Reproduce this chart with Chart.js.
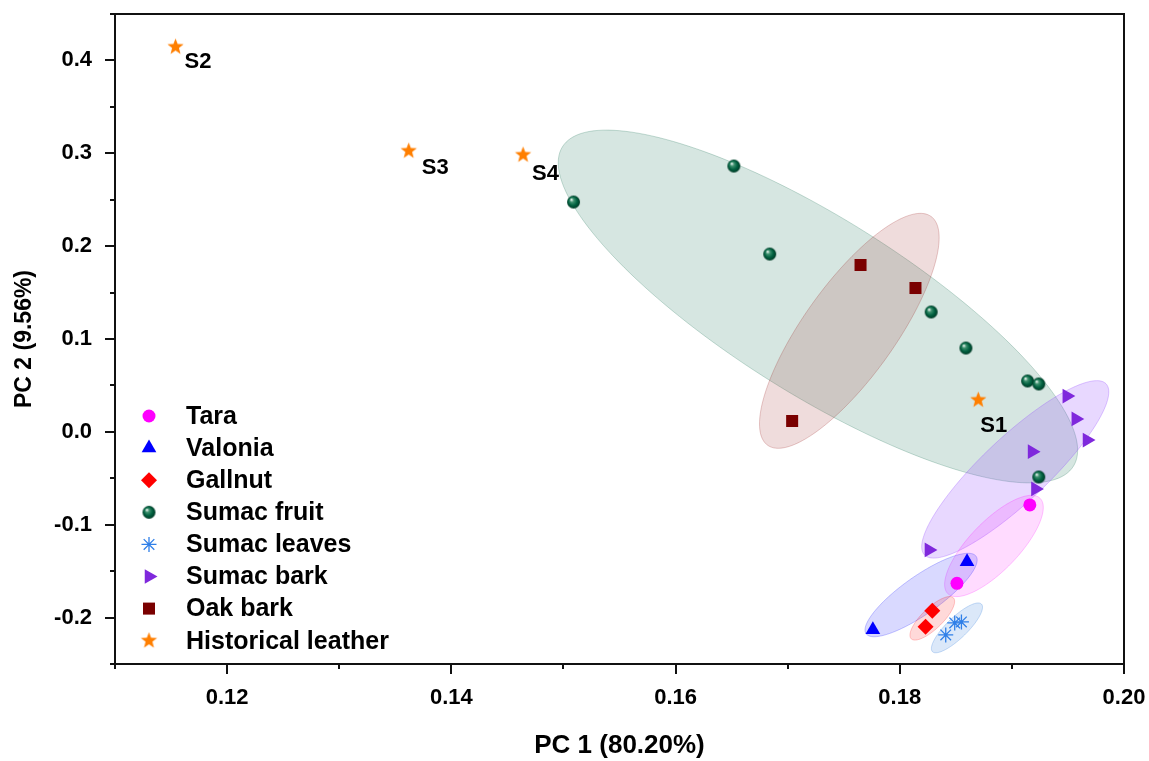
<!DOCTYPE html>
<html>
<head>
<meta charset="utf-8">
<title>PCA tannins</title>
<script src="https://cdn.jsdelivr.net/npm/chart.js@4.4.1/dist/chart.umd.min.js"></script>
<style>
body{margin:0;background:#fff}
canvas{display:block}
</style>
</head>
<body>
<canvas id="pca" width="1149" height="761"></canvas>
<script>
const groups = ['Tara', 'Valonia', 'Gallnut', 'Sumac fruit', 'Sumac leaves', 'Sumac bark', 'Oak bark', 'Historical leather']

// PC1 / PC2 scores for each group
const taraX = [0.1916, 0.1851]
const taraY = [-0.0787, -0.1631]
const valoniaX = [0.1860, 0.1776]
const valoniaY = [-0.1400, -0.2130]
const gallnutX = [0.1829, 0.1823]
const gallnutY = [-0.1926, -0.2098]
const fruitX = [0.1509, 0.1652, 0.1684, 0.1828, 0.1859, 0.1914, 0.1924, 0.1924]
const fruitY = [0.2475, 0.2863, 0.1915, 0.1291, 0.0903, 0.0548, 0.0516, -0.0486]
const leavesX = [0.1841, 0.1849, 0.1855]
const leavesY = [-0.2187, -0.2058, -0.2047]
const barkX = [0.1949, 0.1957, 0.1967, 0.1918, 0.1921, 0.1826]
const barkY = [0.0386, 0.0139, -0.0088, -0.0214, -0.0615, -0.1272]
const oakX = [0.1765, 0.1814, 0.1704]
const oakY = [0.1797, 0.1549, 0.0117]
const leatherX = [0.1870, 0.1154, 0.1362, 0.1464]
const leatherY = [0.0343, 0.4145, 0.3025, 0.2982]
const leatherNames = ['S1', 'S2', 'S3', 'S4']

// confidence ellipses: centre, end of long axis, end of short axis (PC1, PC2 pairs)
const taraEllipse = [0.1884, -0.1229, 0.1925, -0.0714, 0.1900, -0.1409]
const valoniaEllipse = [0.1819, -0.1757, 0.1868, -0.1339, 0.1829, -0.1922]
const gallnutEllipse = [0.1829, -0.2008, 0.1848, -0.1790, 0.1835, -0.2094]
const fruitEllipse = [0.1727, 0.1350, 0.1955, -0.0368, 0.1768, 0.2161]
const leavesEllipse = [0.1851, -0.2111, 0.1873, -0.1857, 0.1857, -0.2197]
const barkEllipse = [0.1903, -0.0404, 0.1984, 0.0517, 0.1923, -0.0658]
const oakEllipse = [0.1755, 0.1088, 0.1828, 0.2319, 0.1788, 0.0796]

const xTicks = [0.12, 0.14, 0.16, 0.18, 0.20]
const xMinorTicks = [0.11, 0.13, 0.15, 0.17, 0.19]
const yTicks = [-0.2, -0.1, 0.0, 0.1, 0.2, 0.3, 0.4]
const yMinorTicks = [-0.25, -0.15, -0.05, 0.05, 0.15, 0.25, 0.35, 0.45]

const FONT = "'Liberation Sans', Arial, sans-serif"

// little canvas markers for the shaded balls and the filled stars
function sphereMarker(r){
    var c = document.createElement('canvas')
    c.width = c.height = 2*r + 2
    var g = c.getContext('2d')
    var m = r + 1
    var grad = g.createRadialGradient(m - r*0.35, m - r*0.4, r*0.05, m, m, r)
    grad.addColorStop(0, '#eef8f3')
    grad.addColorStop(0.28, '#3c8f6d')
    grad.addColorStop(0.65, '#00603f')
    grad.addColorStop(1, '#003a26')
    g.fillStyle = grad
    g.beginPath()
    g.arc(m, m, r, 0, Math.PI*2)
    g.fill()
    return c
}
function starMarker(R, r, color){
    var c = document.createElement('canvas')
    c.width = c.height = 2*R + 2
    var g = c.getContext('2d')
    var m = R + 1
    g.fillStyle = color
    g.beginPath()
    for(var i=0;i<10;i++){
        var a = -Math.PI/2 + i*Math.PI/5
        var rr = i % 2 == 0 ? R : r
        g.lineTo(m + rr*Math.cos(a), m + rr*Math.sin(a))
    }
    g.closePath()
    g.fill()
    return c
}

function pts(xs, ys){
    var out = []
    for(var i=0;i<xs.length;i++) out.push({x: xs[i], y: ys[i]})
    return out
}

const datasets = [
    {label: groups[0], data: pts(taraX, taraY), pointStyle: 'circle', pointRadius: 6.5, pointBackgroundColor: '#ff00ff', pointBorderColor: '#ff00ff', pointBorderWidth: 0},
    {label: groups[1], data: pts(valoniaX, valoniaY), pointStyle: 'triangle', pointRadius: 8.5, pointBackgroundColor: '#0000ff', pointBorderColor: '#0000ff', pointBorderWidth: 0},
    {label: groups[2], data: pts(gallnutX, gallnutY), pointStyle: 'rectRot', pointRadius: 8, pointBackgroundColor: '#ff0000', pointBorderColor: '#ff0000', pointBorderWidth: 0},
    {label: groups[3], data: pts(fruitX, fruitY), pointStyle: sphereMarker(6.5), pointRadius: 6.5, pointBackgroundColor: '#00603f', pointBorderColor: '#00603f', pointBorderWidth: 0},
    {label: groups[4], data: pts(leavesX, leavesY), pointStyle: 'star', pointRadius: 7.5, pointBackgroundColor: '#2f7fe8', pointBorderColor: '#2f7fe8', pointBorderWidth: 1.3},
    {label: groups[5], data: pts(barkX, barkY), pointStyle: 'triangle', pointRotation: 90, pointRadius: 8.5, pointBackgroundColor: '#7f28dc', pointBorderColor: '#7f28dc', pointBorderWidth: 0},
    {label: groups[6], data: pts(oakX, oakY), pointStyle: 'rect', pointRadius: 8.5, pointBackgroundColor: '#7a0000', pointBorderColor: '#7a0000', pointBorderWidth: 0},
    {label: groups[7], data: pts(leatherX, leatherY), pointStyle: starMarker(8.5, 3.6, '#ff7f00'), pointRadius: 8, pointBackgroundColor: '#ff7f00', pointBorderColor: '#ff7f00', pointBorderWidth: 0}
]

const ellipses = [
    {p: fruitEllipse, fill: 'rgba(0,100,70,0.16)', line: 'rgba(0,100,70,0.22)'},
    {p: oakEllipse, fill: 'rgba(150,20,20,0.15)', line: 'rgba(150,20,20,0.22)'},
    {p: barkEllipse, fill: 'rgba(140,60,255,0.20)', line: 'rgba(140,60,255,0.28)'},
    {p: taraEllipse, fill: 'rgba(255,0,255,0.14)', line: 'rgba(255,0,255,0.22)'},
    {p: valoniaEllipse, fill: 'rgba(30,30,255,0.17)', line: 'rgba(30,30,255,0.25)'},
    {p: gallnutEllipse, fill: 'rgba(255,0,0,0.15)', line: 'rgba(255,0,0,0.22)'},
    {p: leavesEllipse, fill: 'rgba(40,120,220,0.17)', line: 'rgba(40,120,220,0.25)'}
]
const labelOffsets = [[2, 26], [9, 15], [13, 17], [9, 19]]

const decor = {
    id: 'decor',
    beforeDatasetsDraw(chart){
        const ctx = chart.ctx, xs = chart.scales.x, ys = chart.scales.y
        ctx.save()
        ellipses.forEach(function(e){
            var cx = xs.getPixelForValue(e.p[0]), cy = ys.getPixelForValue(e.p[1])
            var ux = xs.getPixelForValue(e.p[2]) - cx, uy = ys.getPixelForValue(e.p[3]) - cy
            var vx = xs.getPixelForValue(e.p[4]) - cx, vy = ys.getPixelForValue(e.p[5]) - cy
            ctx.beginPath()
            for(var k=0;k<=180;k++){
                var t = k/180*Math.PI*2
                var px = cx + Math.cos(t)*ux + Math.sin(t)*vx
                var py = cy + Math.cos(t)*uy + Math.sin(t)*vy
                if(k == 0) ctx.moveTo(px, py); else ctx.lineTo(px, py)
            }
            ctx.closePath()
            ctx.fillStyle = e.fill
            ctx.fill()
            ctx.strokeStyle = e.line
            ctx.lineWidth = 1
            ctx.stroke()
        })
        ctx.restore()
    },
    afterDatasetsDraw(chart){
        const ctx = chart.ctx, xs = chart.scales.x, ys = chart.scales.y
        ctx.save()
        ctx.fillStyle = '#000'
        ctx.font = 'bold 22px ' + FONT
        ctx.textAlign = 'left'
        ctx.textBaseline = 'middle'
        for(var i=0;i<leatherNames.length;i++){
            ctx.fillText(leatherNames[i], xs.getPixelForValue(leatherX[i]) + labelOffsets[i][0], ys.getPixelForValue(leatherY[i]) + labelOffsets[i][1])
        }
        ctx.restore()
    },
    afterDraw(chart){
        const ctx = chart.ctx, a = chart.chartArea, xs = chart.scales.x, ys = chart.scales.y
        ctx.save()
        // frame
        ctx.strokeStyle = '#111'
        ctx.lineWidth = 2
        ctx.strokeRect(a.left, a.top, a.right - a.left, a.bottom - a.top)
        // outward ticks
        ctx.beginPath()
        xTicks.forEach(function(v){ var p = Math.round(xs.getPixelForValue(v)); ctx.moveTo(p, a.bottom); ctx.lineTo(p, a.bottom + 10) })
        xMinorTicks.forEach(function(v){ var p = Math.round(xs.getPixelForValue(v)); ctx.moveTo(p, a.bottom); ctx.lineTo(p, a.bottom + 5) })
        yTicks.forEach(function(v){ var p = Math.round(ys.getPixelForValue(v)); ctx.moveTo(a.left, p); ctx.lineTo(a.left - 10, p) })
        yMinorTicks.forEach(function(v){ var p = Math.round(ys.getPixelForValue(v)); ctx.moveTo(a.left, p); ctx.lineTo(a.left - 5, p) })
        ctx.stroke()

        // legend inside the plot, lower left
        var lx = a.left + 34, tx = a.left + 71, ly = 416, step = 32.1
        ctx.font = 'bold 25px ' + FONT
        ctx.textAlign = 'left'
        ctx.textBaseline = 'middle'
        chart.data.datasets.forEach(function(ds, i){
            var y = ly + i*step
            ctx.fillStyle = ds.pointBackgroundColor
            ctx.strokeStyle = ds.pointBorderColor
            ctx.lineWidth = ds.pointBorderWidth
            Chart.helpers.drawPoint(ctx, {pointStyle: ds.pointStyle, rotation: ds.pointRotation || 0, radius: ds.pointRadius, borderWidth: ds.pointBorderWidth}, lx, y)
            ctx.fillStyle = '#000'
            ctx.fillText(ds.label, tx, y + 1)
        })
        ctx.restore()
    }
}

var pca = document.getElementById('pca').getContext('2d')
var myChart = new Chart(pca, {
    type: 'scatter',
    data: { datasets: datasets },
    options: {
        responsive: false,
        animation: false,
        layout: { padding: { top: 14, right: 25, left: 0, bottom: 0 } },
        plugins: { legend: { display: false }, tooltip: { enabled: false } },
        scales: {
            x: {
                type: 'linear', min: 0.11, max: 0.20,
                grid: { display: false, drawTicks: false },
                border: { display: false },
                afterFit: function(s){ s.height = 97; s.paddingLeft = 0; s.paddingRight = 0 },
                afterBuildTicks: function(s){ s.ticks = xTicks.map(function(v){ return {value: v} }) },
                ticks: { padding: 21, color: '#000', maxRotation: 0, autoSkip: false,
                    font: { family: FONT, size: 22, weight: 'bold' },
                    callback: function(v){ return v.toFixed(2) } },
                title: { display: true, text: 'PC 1 (80.20%)', color: '#000',
                    font: { family: FONT, size: 26, weight: 'bold' }, padding: { top: 0, bottom: 0 } }
            },
            y: {
                type: 'linear', min: -0.25, max: 0.45,
                grid: { display: false, drawTicks: false },
                border: { display: false },
                afterFit: function(s){ s.width = 115; s.paddingTop = 0; s.paddingBottom = 0 },
                afterBuildTicks: function(s){ s.ticks = yTicks.map(function(v){ return {value: v} }) },
                ticks: { padding: 23, color: '#000', autoSkip: false,
                    font: { family: FONT, size: 22, weight: 'bold' },
                    callback: function(v){ return v.toFixed(1) } },
                title: { display: true, text: 'PC 2 (9.56%)', color: '#000',
                    font: { family: FONT, size: 23, weight: 'bold' }, padding: { top: 11, bottom: 0 } }
            }
        }
    },
    plugins: [decor]
})
</script>
</body>
</html>
